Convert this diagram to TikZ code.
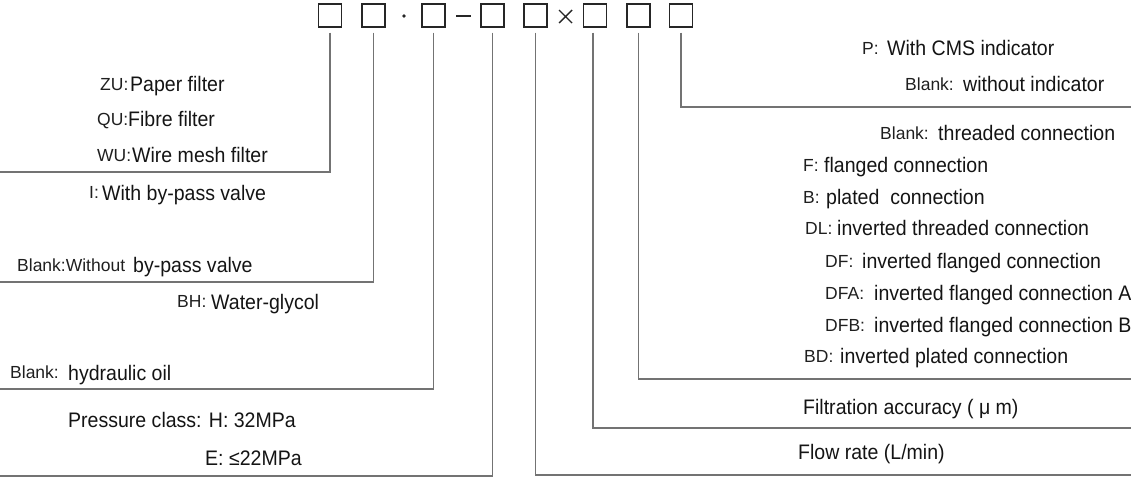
\documentclass[tikz,border=0pt]{standalone}
\usepackage{fontspec}
\newfontfamily\pffont{Liberation Sans}
\newfontfamily\dsfont[FakeStretch=0.93]{Liberation Sans}
\begin{document}
\begin{tikzpicture}[x=1pt,y=-1pt,
  box/.style={draw=black!85, line width=1.3pt, minimum width=23pt, minimum height=23pt, inner sep=0pt},
  conn/.style={draw=black!55, line width=1.5pt},
  pf/.style={anchor=base west, inner sep=0pt, font=\pffont\fontsize{17.5}{20}\selectfont, text=black!88},
  ds/.style={anchor=base west, inner sep=0pt, font=\dsfont\fontsize{21}{25}\selectfont, text=black!92},
  symb/.style={draw=black!85, line width=1.4pt}]
\useasboundingbox (0,0) rectangle (1131,480);
% boxes
\node[box] (b1) at (330,15.5) {};
\node[box] (b2) at (373.5,15.5) {};
\node[box] (b3) at (433.5,15.5) {};
\node[box] (b4) at (492.5,15.5) {};
\node[box] (b5) at (535.5,15.5) {};
\node[box] (b6) at (595,15.5) {};
\node[box] (b7) at (638.5,15.5) {};
\node[box] (b8) at (681,15.5) {};
% separators
\fill[black!85] (404,16) circle (1.8);
\draw[symb, line width=2pt] (456,16) -- (471,16);
\draw[symb] (559,10) -- (572,23) (559,23) -- (572,10);
% line ends
\coordinate (e1) at (0,172);
\coordinate (e2) at (0,282);
\coordinate (e3) at (0,389);
\coordinate (e4) at (0,476);
\coordinate (e5) at (1131,475);
\coordinate (e6) at (1131,428);
\coordinate (e7) at (1131,379);
\coordinate (e8) at (1131,107);
% connectors
\draw[conn] ([yshift=-5pt]b1.south) |- (e1);
\draw[conn] ([yshift=-5pt]b2.south) |- (e2);
\draw[conn] ([yshift=-5pt]b3.south) |- (e3);
\draw[conn] ([yshift=-5pt]b4.south) |- (e4);
\draw[conn] ([yshift=-5pt]b5.south) |- (e5);
\draw[conn] ([xshift=-2pt,yshift=-5pt]b6.south) |- (e6);
\draw[conn] ([yshift=-5pt]b7.south) |- (e7);
\draw[conn] ([yshift=-5pt]b8.south) |- (e8);
% left labels
\node[pf] (pZU) at (100,90) {ZU:}; \node[ds] (dZU) at (130,91) {Paper filter};
\node[pf] (pQU) at (97,125) {QU:}; \node[ds] (dQU) at (128,126) {Fibre filter};
\node[pf] (pWU) at (97,161) {WU:}; \node[ds] (dWU) at (132,162) {Wire mesh filter};
\node[pf] (pI) at (89,198) {I:}; \node[ds] (dI) at (102,200) {With by-pass valve};
\node[pf] (pBl1) at (17,271) {Blank:Without}; \node[ds] (dBl1) at (133,272) {by-pass valve};
\node[pf] (pBH) at (177,307) {BH:}; \node[ds] (dBH) at (211,309) {Water-glycol};
\node[pf] (pBl2) at (10,378) {Blank:}; \node[ds] (dBl2) at (68,380) {hydraulic oil};
\node[ds] (dPC) at (68,427) {Pressure class: H: 32MPa};
\node[ds] (dE) at (205,465) {E: ≤22MPa};
% right labels
\node[pf] (pP) at (862,54) {P:}; \node[ds] (dP) at (887,55) {With CMS indicator};
\node[pf] (pBl3) at (905,90) {Blank:}; \node[ds] (dBl3) at (963,91) {without indicator};
\node[pf] (pBl4) at (880,139) {Blank:}; \node[ds] (dBl4) at (938,140) {threaded connection};
\node[pf] (pF) at (803,171) {F:}; \node[ds] (dF) at (824,172) {flanged connection};
\node[pf] (pB) at (803,203) {B:}; \node[ds] (dB) at (826,204) {plated\ \ connection};
\node[pf] (pDL) at (805,234) {DL:}; \node[ds] (dDL) at (837,235) {inverted threaded connection};
\node[pf] (pDF) at (825,267) {DF:}; \node[ds] (dDF) at (862,268) {inverted flanged connection};
\node[pf] (pDFA) at (825,299) {DFA:}; \node[ds] (dDFA) at (874,300) {inverted flanged connection A};
\node[pf] (pDFB) at (825,331) {DFB:}; \node[ds] (dDFB) at (874,332) {inverted flanged connection B};
\node[pf] (pBD) at (804,362) {BD:}; \node[ds] (dBD) at (840,363) {inverted plated connection};
\node[ds] (dFA) at (803,414) {Filtration accuracy ( μ m)};
\node[ds] (dFR) at (798,459) {Flow rate (L/min)};
\end{tikzpicture}
\end{document}
